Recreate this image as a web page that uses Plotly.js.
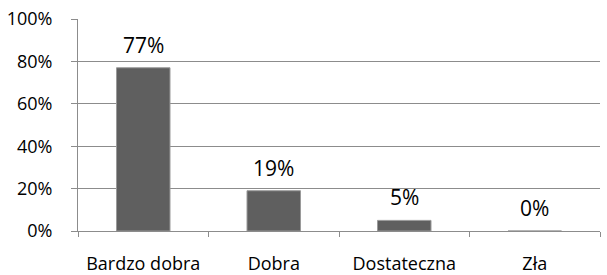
<!DOCTYPE html>
<html><head><meta charset="utf-8">
<script src="https://cdn.plot.ly/plotly-3.0.1.min.js"></script>
<style>body{margin:0;background:#fff}#c{width:607px;height:275px}</style>
</head><body><div id="c"></div>
<script>
const categories = ["Bardzo dobra", "Dobra", "Dostateczna", "Zła"];
const values = [77, 19, 5, 0];
const labels = ["77%", "19%", "5%", "0%"];
const yTicks = [0, 20, 40, 60, 80, 100];
const yTickLabels = ["0%", "20%", "40%", "60%", "80%", "100%"];

const font = "Open Sans, Liberation Sans, sans-serif";
const trace = {
  type: "bar", x: categories, y: values,
  marker: {color: "#5f5f5f", line: {color: "#9a9a9a", width: 1}},
  hoverinfo: "none"
};
const annotations = categories.map((c, i) => ({
  x: c, y: values[i], text: labels[i], showarrow: false,
  yanchor: "middle", yshift: 23, font: {family: font, size: 21, color: "#000"}
}));
Plotly.newPlot("c", [trace], {
  width: 607, height: 275,
  margin: {l: 78, r: 7, t: 19, b: 44},
  paper_bgcolor: "#fff", plot_bgcolor: "#fff",
  bargap: 0.59,
  showlegend: false,
  annotations: annotations,
  xaxis: {
    type: "category", showline: true, linecolor: "#8c8c8c", linewidth: 1,
    ticks: "outside", tickson: "boundaries", ticklen: 5, tickcolor: "#8c8c8c",
    ticklabelstandoff: 16,
    tickfont: {family: font, size: 18, color: "#000"}, showgrid: false
  },
  yaxis: {
    range: [0, 100], tickvals: yTicks, ticktext: yTickLabels,
    showline: true, linecolor: "#8c8c8c", linewidth: 1,
    ticks: "outside", ticklen: 6, tickcolor: "#8c8c8c",
    gridcolor: "#8c8c8c", gridwidth: 1, zeroline: false,
    tickfont: {family: font, size: 18, color: "#000"}, ticklabelstandoff: 15
  }
}, {staticPlot: true});
</script></body></html>
